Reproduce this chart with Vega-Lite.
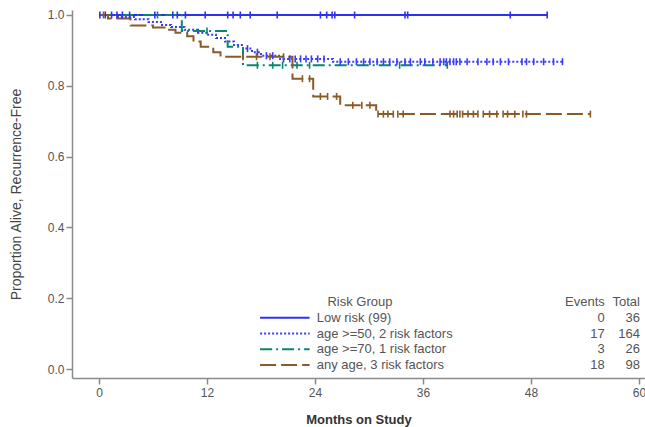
{
  "$schema": "https://vega.github.io/schema/vega-lite/v6.json",
  "width": 573,
  "height": 368,
  "autosize": {"type": "none"},
  "padding": {"left": 72, "top": 10, "right": 0, "bottom": 49},
  "background": "white",
  "config": {
    "view": {"stroke": null},
    "font": "Liberation Sans",
    "axis": {
      "grid": false,
      "domainColor": "#8a8a8a",
      "domainWidth": 1.5,
      "tickColor": "#8a8a8a",
      "tickWidth": 1.5,
      "tickSize": 6,
      "labelColor": "#555555",
      "labelFontSize": 12,
      "labelFont": "Liberation Sans",
      "titleFont": "Liberation Sans",
      "titleColor": "#333333",
      "labelFlush": false
    }
  },
  "datasets": {
    "curves": [
      {"group": "Low risk (99)", "month": 0, "p": 1},
      {"group": "Low risk (99)", "month": 49.8, "p": 1},
      {"group": "age >=50, 2 risk factors", "month": 0, "p": 1},
      {"group": "age >=50, 2 risk factors", "month": 2, "p": 0.994},
      {"group": "age >=50, 2 risk factors", "month": 4, "p": 0.988},
      {"group": "age >=50, 2 risk factors", "month": 5.5, "p": 0.98},
      {"group": "age >=50, 2 risk factors", "month": 7, "p": 0.972},
      {"group": "age >=50, 2 risk factors", "month": 8, "p": 0.966},
      {"group": "age >=50, 2 risk factors", "month": 9.5, "p": 0.958},
      {"group": "age >=50, 2 risk factors", "month": 11, "p": 0.95},
      {"group": "age >=50, 2 risk factors", "month": 12, "p": 0.944},
      {"group": "age >=50, 2 risk factors", "month": 13, "p": 0.935},
      {"group": "age >=50, 2 risk factors", "month": 14, "p": 0.925},
      {"group": "age >=50, 2 risk factors", "month": 15, "p": 0.915},
      {"group": "age >=50, 2 risk factors", "month": 16, "p": 0.905},
      {"group": "age >=50, 2 risk factors", "month": 17, "p": 0.895},
      {"group": "age >=50, 2 risk factors", "month": 18, "p": 0.885},
      {"group": "age >=50, 2 risk factors", "month": 20, "p": 0.876},
      {"group": "age >=50, 2 risk factors", "month": 26, "p": 0.868},
      {"group": "age >=50, 2 risk factors", "month": 51.5, "p": 0.868},
      {"group": "age >=70, 1 risk factor", "month": 0, "p": 1},
      {"group": "age >=70, 1 risk factor", "month": 9.2, "p": 0.955},
      {"group": "age >=70, 1 risk factor", "month": 14.3, "p": 0.91},
      {"group": "age >=70, 1 risk factor", "month": 16, "p": 0.858},
      {"group": "age >=70, 1 risk factor", "month": 38.7, "p": 0.858},
      {"group": "any age, 3 risk factors", "month": 0, "p": 1},
      {"group": "any age, 3 risk factors", "month": 1, "p": 0.99},
      {"group": "any age, 3 risk factors", "month": 3.5, "p": 0.97},
      {"group": "any age, 3 risk factors", "month": 6, "p": 0.965},
      {"group": "any age, 3 risk factors", "month": 7.5, "p": 0.958},
      {"group": "any age, 3 risk factors", "month": 8.5, "p": 0.95},
      {"group": "any age, 3 risk factors", "month": 9.8, "p": 0.94},
      {"group": "any age, 3 risk factors", "month": 10.5, "p": 0.925},
      {"group": "any age, 3 risk factors", "month": 11.3, "p": 0.91},
      {"group": "any age, 3 risk factors", "month": 12.7, "p": 0.895},
      {"group": "any age, 3 risk factors", "month": 13.5, "p": 0.882},
      {"group": "any age, 3 risk factors", "month": 21.5, "p": 0.82},
      {"group": "any age, 3 risk factors", "month": 23.8, "p": 0.77},
      {"group": "any age, 3 risk factors", "month": 26.8, "p": 0.745},
      {"group": "any age, 3 risk factors", "month": 30.8, "p": 0.72},
      {"group": "any age, 3 risk factors", "month": 54.6, "p": 0.72}
    ],
    "censor": [
      {"group": "Low risk (99)", "month": 0.1, "p": 1},
      {"group": "Low risk (99)", "month": 0.7, "p": 1},
      {"group": "Low risk (99)", "month": 1.4, "p": 1},
      {"group": "Low risk (99)", "month": 2, "p": 1},
      {"group": "Low risk (99)", "month": 2.6, "p": 1},
      {"group": "Low risk (99)", "month": 3.4, "p": 1},
      {"group": "Low risk (99)", "month": 6.2, "p": 1},
      {"group": "Low risk (99)", "month": 8.2, "p": 1},
      {"group": "Low risk (99)", "month": 8.7, "p": 1},
      {"group": "Low risk (99)", "month": 9.6, "p": 1},
      {"group": "Low risk (99)", "month": 11.8, "p": 1},
      {"group": "Low risk (99)", "month": 14.3, "p": 1},
      {"group": "Low risk (99)", "month": 14.9, "p": 1},
      {"group": "Low risk (99)", "month": 15.7, "p": 1},
      {"group": "Low risk (99)", "month": 16.8, "p": 1},
      {"group": "Low risk (99)", "month": 19.8, "p": 1},
      {"group": "Low risk (99)", "month": 24.6, "p": 1},
      {"group": "Low risk (99)", "month": 25.3, "p": 1},
      {"group": "Low risk (99)", "month": 25.9, "p": 1},
      {"group": "Low risk (99)", "month": 26.2, "p": 1},
      {"group": "Low risk (99)", "month": 28.4, "p": 1},
      {"group": "Low risk (99)", "month": 34, "p": 1},
      {"group": "Low risk (99)", "month": 34.3, "p": 1},
      {"group": "Low risk (99)", "month": 45.7, "p": 1},
      {"group": "Low risk (99)", "month": 49.8, "p": 1},
      {"group": "age >=50, 2 risk factors", "month": 16.5, "p": 0.905},
      {"group": "age >=50, 2 risk factors", "month": 17.6, "p": 0.895},
      {"group": "age >=50, 2 risk factors", "month": 18.6, "p": 0.885},
      {"group": "age >=50, 2 risk factors", "month": 19.3, "p": 0.885},
      {"group": "age >=50, 2 risk factors", "month": 20.5, "p": 0.876},
      {"group": "age >=50, 2 risk factors", "month": 21.2, "p": 0.876},
      {"group": "age >=50, 2 risk factors", "month": 21.8, "p": 0.876},
      {"group": "age >=50, 2 risk factors", "month": 22.4, "p": 0.876},
      {"group": "age >=50, 2 risk factors", "month": 23, "p": 0.876},
      {"group": "age >=50, 2 risk factors", "month": 23.6, "p": 0.876},
      {"group": "age >=50, 2 risk factors", "month": 24.3, "p": 0.876},
      {"group": "age >=50, 2 risk factors", "month": 25, "p": 0.876},
      {"group": "age >=50, 2 risk factors", "month": 26.8, "p": 0.868},
      {"group": "age >=50, 2 risk factors", "month": 27.7, "p": 0.868},
      {"group": "age >=50, 2 risk factors", "month": 28.6, "p": 0.868},
      {"group": "age >=50, 2 risk factors", "month": 29.4, "p": 0.868},
      {"group": "age >=50, 2 risk factors", "month": 30.1, "p": 0.868},
      {"group": "age >=50, 2 risk factors", "month": 30.9, "p": 0.868},
      {"group": "age >=50, 2 risk factors", "month": 31.6, "p": 0.868},
      {"group": "age >=50, 2 risk factors", "month": 32.3, "p": 0.868},
      {"group": "age >=50, 2 risk factors", "month": 33.1, "p": 0.868},
      {"group": "age >=50, 2 risk factors", "month": 34, "p": 0.868},
      {"group": "age >=50, 2 risk factors", "month": 34.6, "p": 0.868},
      {"group": "age >=50, 2 risk factors", "month": 35.7, "p": 0.868},
      {"group": "age >=50, 2 risk factors", "month": 36.2, "p": 0.868},
      {"group": "age >=50, 2 risk factors", "month": 37.1, "p": 0.868},
      {"group": "age >=50, 2 risk factors", "month": 37.9, "p": 0.868},
      {"group": "age >=50, 2 risk factors", "month": 38.3, "p": 0.868},
      {"group": "age >=50, 2 risk factors", "month": 38.6, "p": 0.868},
      {"group": "age >=50, 2 risk factors", "month": 39, "p": 0.868},
      {"group": "age >=50, 2 risk factors", "month": 39.4, "p": 0.868},
      {"group": "age >=50, 2 risk factors", "month": 39.7, "p": 0.868},
      {"group": "age >=50, 2 risk factors", "month": 40.1, "p": 0.868},
      {"group": "age >=50, 2 risk factors", "month": 40.9, "p": 0.868},
      {"group": "age >=50, 2 risk factors", "month": 42.1, "p": 0.868},
      {"group": "age >=50, 2 risk factors", "month": 43.1, "p": 0.868},
      {"group": "age >=50, 2 risk factors", "month": 43.8, "p": 0.868},
      {"group": "age >=50, 2 risk factors", "month": 44.6, "p": 0.868},
      {"group": "age >=50, 2 risk factors", "month": 45.5, "p": 0.868},
      {"group": "age >=50, 2 risk factors", "month": 47, "p": 0.868},
      {"group": "age >=50, 2 risk factors", "month": 47.5, "p": 0.868},
      {"group": "age >=50, 2 risk factors", "month": 48.3, "p": 0.868},
      {"group": "age >=50, 2 risk factors", "month": 49.4, "p": 0.868},
      {"group": "age >=50, 2 risk factors", "month": 50.5, "p": 0.868},
      {"group": "age >=50, 2 risk factors", "month": 51.5, "p": 0.868},
      {"group": "age >=70, 1 risk factor", "month": 6.5, "p": 1},
      {"group": "age >=70, 1 risk factor", "month": 12, "p": 0.955},
      {"group": "age >=70, 1 risk factor", "month": 17.6, "p": 0.858},
      {"group": "age >=70, 1 risk factor", "month": 19.3, "p": 0.858},
      {"group": "age >=70, 1 risk factor", "month": 20.4, "p": 0.858},
      {"group": "age >=70, 1 risk factor", "month": 22, "p": 0.858},
      {"group": "age >=70, 1 risk factor", "month": 23.4, "p": 0.858},
      {"group": "age >=70, 1 risk factor", "month": 33.4, "p": 0.858},
      {"group": "age >=70, 1 risk factor", "month": 38.7, "p": 0.858},
      {"group": "any age, 3 risk factors", "month": 0.5, "p": 1},
      {"group": "any age, 3 risk factors", "month": 16, "p": 0.882},
      {"group": "any age, 3 risk factors", "month": 17.5, "p": 0.882},
      {"group": "any age, 3 risk factors", "month": 19, "p": 0.882},
      {"group": "any age, 3 risk factors", "month": 20.5, "p": 0.882},
      {"group": "any age, 3 risk factors", "month": 22.6, "p": 0.82},
      {"group": "any age, 3 risk factors", "month": 23.4, "p": 0.82},
      {"group": "any age, 3 risk factors", "month": 24.6, "p": 0.77},
      {"group": "any age, 3 risk factors", "month": 25.4, "p": 0.77},
      {"group": "any age, 3 risk factors", "month": 26.4, "p": 0.77},
      {"group": "any age, 3 risk factors", "month": 28.2, "p": 0.745},
      {"group": "any age, 3 risk factors", "month": 29.2, "p": 0.745},
      {"group": "any age, 3 risk factors", "month": 30.1, "p": 0.745},
      {"group": "any age, 3 risk factors", "month": 31, "p": 0.72},
      {"group": "any age, 3 risk factors", "month": 31.6, "p": 0.72},
      {"group": "any age, 3 risk factors", "month": 32.1, "p": 0.72},
      {"group": "any age, 3 risk factors", "month": 32.7, "p": 0.72},
      {"group": "any age, 3 risk factors", "month": 33.2, "p": 0.72},
      {"group": "any age, 3 risk factors", "month": 33.8, "p": 0.72},
      {"group": "any age, 3 risk factors", "month": 39, "p": 0.72},
      {"group": "any age, 3 risk factors", "month": 39.4, "p": 0.72},
      {"group": "any age, 3 risk factors", "month": 39.8, "p": 0.72},
      {"group": "any age, 3 risk factors", "month": 40.1, "p": 0.72},
      {"group": "any age, 3 risk factors", "month": 40.4, "p": 0.72},
      {"group": "any age, 3 risk factors", "month": 41, "p": 0.72},
      {"group": "any age, 3 risk factors", "month": 41.6, "p": 0.72},
      {"group": "any age, 3 risk factors", "month": 42.1, "p": 0.72},
      {"group": "any age, 3 risk factors", "month": 42.7, "p": 0.72},
      {"group": "any age, 3 risk factors", "month": 43.4, "p": 0.72},
      {"group": "any age, 3 risk factors", "month": 44.2, "p": 0.72},
      {"group": "any age, 3 risk factors", "month": 44.9, "p": 0.72},
      {"group": "any age, 3 risk factors", "month": 45.4, "p": 0.72},
      {"group": "any age, 3 risk factors", "month": 46.2, "p": 0.72},
      {"group": "any age, 3 risk factors", "month": 47.1, "p": 0.72},
      {"group": "any age, 3 risk factors", "month": 47.5, "p": 0.72},
      {"group": "any age, 3 risk factors", "month": 54.6, "p": 0.72}
    ],
    "table": [
      {"row": 0, "group": "", "label": "Risk Group", "events": "Events", "total": "Total"},
      {"row": 1, "group": "Low risk (99)", "label": "Low risk (99)", "events": "0", "total": "36"},
      {"row": 2, "group": "age >=50, 2 risk factors", "label": "age >=50, 2 risk factors", "events": "17", "total": "164"},
      {"row": 3, "group": "age >=70, 1 risk factor", "label": "age >=70, 1 risk factor", "events": "3", "total": "26"},
      {"row": 4, "group": "any age, 3 risk factors", "label": "any age, 3 risk factors", "events": "18", "total": "98"}
    ]
  },
  "layer": [
    {
      "layer": [
        {
          "data": {"name": "curves"},
          "mark": {"type": "line", "interpolate": "step-after", "strokeWidth": 2},
          "encoding": {
            "x": {
              "field": "month", "type": "quantitative",
              "scale": {"domain": [-3, 60.667], "nice": false, "zero": false},
              "axis": {"values": [0, 12, 24, 36, 48, 60], "title": "Months on Study", "titleFontSize": 13, "titleFontWeight": "bold", "titlePadding": 15, "labelPadding": 3}
            },
            "y": {
              "field": "p", "type": "quantitative",
              "scale": {"domain": [-0.0254, 1.0141], "nice": false, "zero": false},
              "axis": {"values": [0, 0.2, 0.4, 0.6, 0.8, 1.0], "format": ".1f", "title": "Proportion Alive, Recurrence-Free", "titleFontSize": 14, "titleFontWeight": "normal", "titleColor": "#444444", "titlePadding": 24, "labelPadding": 2}
            },
            "color": {
              "field": "group", "type": "nominal",
              "scale": {"domain": ["Low risk (99)", "age >=50, 2 risk factors", "age >=70, 1 risk factor", "any age, 3 risk factors"], "range": ["#2f2ff5", "#3a3aff", "#07876f", "#8a5a28"]},
              "legend": null
            },
            "strokeDash": {
              "field": "group", "type": "nominal",
              "scale": {"domain": ["Low risk (99)", "age >=50, 2 risk factors", "age >=70, 1 risk factor", "any age, 3 risk factors"], "range": [[1, 0], [2, 2], [12, 4, 2, 4], [16, 5]]},
              "legend": null
            }
          }
        },
        {
          "data": {"name": "censor"},
          "mark": {"type": "point", "shape": "M0,-1L0,1", "filled": false, "strokeWidth": 1.6, "size": 49, "opacity": 1},
          "encoding": {
            "x": {"field": "month", "type": "quantitative"},
            "y": {"field": "p", "type": "quantitative"},
            "color": {"field": "group", "type": "nominal", "legend": null}
          }
        }
      ]
    },
    {
      "data": {"name": "table"},
      "layer": [
        {
          "transform": [{"filter": "datum.row != 0"}],
          "mark": {"type": "rule", "strokeWidth": 2},
          "encoding": {
            "x": {"datum": 17.9, "type": "quantitative"},
            "x2": {"datum": 23.4},
            "y": {"field": "row", "type": "quantitative", "scale": {"domain": [-18.54, 4.825], "reverse": true, "nice": false, "zero": false}, "axis": null},
            "color": {"field": "group", "type": "nominal", "legend": null},
            "strokeDash": {"field": "group", "type": "nominal", "legend": null}
          }
        },
        {
          "transform": [{"filter": "datum.row != 0"}],
          "mark": {"type": "text", "align": "left", "baseline": "middle", "fontSize": 13, "color": "#555555"},
          "encoding": {
            "x": {"datum": 24.2, "type": "quantitative"},
            "y": {"field": "row", "type": "quantitative", "axis": null},
            "text": {"field": "label"}
          }
        },
        {
          "transform": [{"filter": "datum.row == 0"}],
          "mark": {"type": "text", "align": "center", "baseline": "middle", "fontSize": 13, "color": "#555555"},
          "encoding": {
            "x": {"datum": 29.0, "type": "quantitative"},
            "y": {"field": "row", "type": "quantitative", "axis": null},
            "text": {"field": "label"}
          }
        },
        {
          "mark": {"type": "text", "align": "right", "baseline": "middle", "fontSize": 13, "color": "#555555"},
          "encoding": {
            "x": {"datum": 56.2, "type": "quantitative"},
            "y": {"field": "row", "type": "quantitative", "axis": null},
            "text": {"field": "events"}
          }
        },
        {
          "mark": {"type": "text", "align": "right", "baseline": "middle", "fontSize": 13, "color": "#555555"},
          "encoding": {
            "x": {"datum": 60.1, "type": "quantitative"},
            "y": {"field": "row", "type": "quantitative", "axis": null},
            "text": {"field": "total"}
          }
        }
      ]
    }
  ],
  "resolve": {"scale": {"y": "independent"}}
}
